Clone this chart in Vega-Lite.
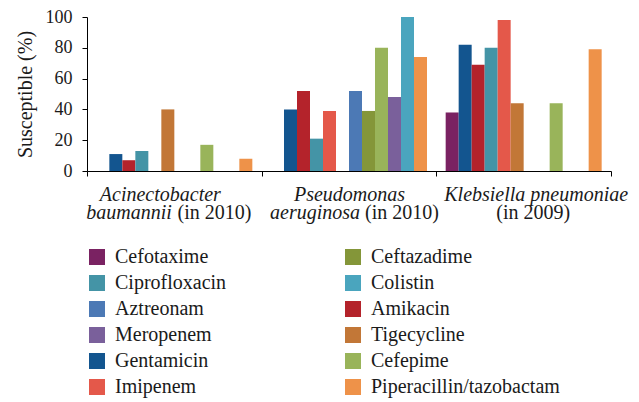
{
  "$schema": "https://vega.github.io/schema/vega-lite/v6.json",
  "width": 524,
  "height": 154,
  "autosize": {"type": "none"},
  "padding": {"left": 87, "top": 17, "right": 28, "bottom": 231},
  "background": "white",
  "config": {
    "font": "Liberation Serif",
    "view": {"stroke": null},
    "axis": {"grid": false, "domainColor": "#000", "tickColor": "#000", "labelColor": "#1a1a1a", "titleColor": "#1a1a1a", "domainWidth": 1, "tickWidth": 1}
  },
  "data": {
    "values": [
      {"organism": "Acinectobacter baumannii (in 2010)", "antibiotic": "Gentamicin", "susceptible": 11},
      {"organism": "Acinectobacter baumannii (in 2010)", "antibiotic": "Amikacin", "susceptible": 7},
      {"organism": "Acinectobacter baumannii (in 2010)", "antibiotic": "Ciprofloxacin", "susceptible": 13},
      {"organism": "Acinectobacter baumannii (in 2010)", "antibiotic": "Tigecycline", "susceptible": 40},
      {"organism": "Acinectobacter baumannii (in 2010)", "antibiotic": "Cefepime", "susceptible": 17},
      {"organism": "Acinectobacter baumannii (in 2010)", "antibiotic": "Piperacillin/tazobactam", "susceptible": 8},
      {"organism": "Pseudomonas aeruginosa (in 2010)", "antibiotic": "Gentamicin", "susceptible": 40},
      {"organism": "Pseudomonas aeruginosa (in 2010)", "antibiotic": "Amikacin", "susceptible": 52},
      {"organism": "Pseudomonas aeruginosa (in 2010)", "antibiotic": "Ciprofloxacin", "susceptible": 21},
      {"organism": "Pseudomonas aeruginosa (in 2010)", "antibiotic": "Imipenem", "susceptible": 39},
      {"organism": "Pseudomonas aeruginosa (in 2010)", "antibiotic": "Aztreonam", "susceptible": 52},
      {"organism": "Pseudomonas aeruginosa (in 2010)", "antibiotic": "Ceftazadime", "susceptible": 39},
      {"organism": "Pseudomonas aeruginosa (in 2010)", "antibiotic": "Cefepime", "susceptible": 80},
      {"organism": "Pseudomonas aeruginosa (in 2010)", "antibiotic": "Meropenem", "susceptible": 48},
      {"organism": "Pseudomonas aeruginosa (in 2010)", "antibiotic": "Colistin", "susceptible": 100},
      {"organism": "Pseudomonas aeruginosa (in 2010)", "antibiotic": "Piperacillin/tazobactam", "susceptible": 74},
      {"organism": "Klebsiella pneumoniae (in 2009)", "antibiotic": "Cefotaxime", "susceptible": 38},
      {"organism": "Klebsiella pneumoniae (in 2009)", "antibiotic": "Gentamicin", "susceptible": 82},
      {"organism": "Klebsiella pneumoniae (in 2009)", "antibiotic": "Amikacin", "susceptible": 69},
      {"organism": "Klebsiella pneumoniae (in 2009)", "antibiotic": "Ciprofloxacin", "susceptible": 80},
      {"organism": "Klebsiella pneumoniae (in 2009)", "antibiotic": "Imipenem", "susceptible": 98},
      {"organism": "Klebsiella pneumoniae (in 2009)", "antibiotic": "Tigecycline", "susceptible": 44},
      {"organism": "Klebsiella pneumoniae (in 2009)", "antibiotic": "Cefepime", "susceptible": 44},
      {"organism": "Klebsiella pneumoniae (in 2009)", "antibiotic": "Piperacillin/tazobactam", "susceptible": 79}
    ]
  },
  "layer": [
    {
      "mark": {"type": "bar"},
      "encoding": {
        "x": {
          "field": "organism", "type": "nominal",
          "scale": {"domain": ["Acinectobacter baumannii (in 2010)", "Pseudomonas aeruginosa (in 2010)", "Klebsiella pneumoniae (in 2009)"], "paddingInner": 0, "paddingOuter": 0},
          "axis": {
            "orient": "bottom",
            "title": null,
            "labelExpr": "datum.value == 'Acinectobacter baumannii (in 2010)' ? 'Acinectobacter' : datum.value == 'Pseudomonas aeruginosa (in 2010)' ? 'Pseudomonas' : datum.value == 'Klebsiella pneumoniae (in 2009)' ? 'Klebsiella pneumoniae' : ''",
            "labelFontStyle": "italic", "labelFontSize": 20, "labelAngle": 0,
            "labelBaseline": "alphabetic", "labelPadding": 24, "tickSize": 5,
            "tickBand": "extent", "labelLimit": 400, "labelOverlap": false,
            "labelOffset": {"condition": [{"test": "datum.value == 'Acinectobacter baumannii (in 2010)'", "value": -14.5}, {"test": "datum.value == 'Klebsiella pneumoniae (in 2009)'", "value": 12}], "value": 0}
          }
        },
        "xOffset": {
          "field": "antibiotic", "type": "nominal",
          "scale": {"domain": ["Cefotaxime", "Gentamicin", "Amikacin", "Ciprofloxacin", "Imipenem", "Tigecycline", "Aztreonam", "Ceftazadime", "Cefepime", "Meropenem", "Colistin", "Piperacillin/tazobactam"], "paddingInner": 0, "paddingOuter": 0.718}
        },
        "y": {
          "field": "susceptible", "type": "quantitative",
          "scale": {"domain": [0, 100]},
          "axis": {"title": "Susceptible (%)", "titleFontSize": 20, "titleFontWeight": "normal", "titlePadding": 10, "labelFontSize": 18, "values": [0, 20, 40, 60, 80, 100], "tickSize": 5, "labelPadding": 10}
        },
        "color": {
          "field": "antibiotic", "type": "nominal",
          "scale": {
            "domain": ["Cefotaxime", "Ciprofloxacin", "Aztreonam", "Meropenem", "Gentamicin", "Imipenem", "Ceftazadime", "Colistin", "Amikacin", "Tigecycline", "Cefepime", "Piperacillin/tazobactam"],
            "range": ["#7a2262", "#4494a6", "#4c79b5", "#7a609b", "#13558f", "#e4584a", "#849639", "#4aa5be", "#b4232b", "#c27737", "#99b45a", "#ee9249"]
          },
          "legend": {"title": null, "orient": "none", "legendX": 0, "legendY": 230, "columns": 2, "columnPadding": 116, "rowPadding": 6, "symbolType": "square", "symbolSize": 256, "symbolStrokeWidth": 0, "symbolOpacity": 1, "labelFontSize": 20, "labelOffset": 8, "labelLimit": 400, "labelColor": "#1a1a1a"}
        }
      }
    },
    {
      "mark": {"type": "bar", "opacity": 0},
      "encoding": {
        "x": {
          "field": "organism", "type": "nominal",
          "axis": {
            "orient": "bottom",
            "title": null, "domain": false, "ticks": false, "tickSize": 0,
            "labelExpr": "datum.value == 'Acinectobacter baumannii (in 2010)' ? 'baumannii' : datum.value == 'Pseudomonas aeruginosa (in 2010)' ? 'aeruginosa' : ''",
            "labelFontStyle": "italic", "labelFontSize": 20, "labelAngle": 0,
            "labelAlign": "right", "labelBaseline": "alphabetic", "labelPadding": 47, "labelLimit": 400, "labelOverlap": false,
            "labelOffset": {"condition": [{"test": "datum.value == 'Acinectobacter baumannii (in 2010)'", "value": -2.5}], "value": 11}
          }
        }
      }
    },
    {
      "mark": {"type": "bar", "opacity": 0},
      "encoding": {
        "x": {
          "field": "organism", "type": "nominal",
          "axis": {
            "orient": "bottom",
            "title": null, "domain": false, "ticks": false, "tickSize": 0,
            "labelExpr": "datum.value == 'Klebsiella pneumoniae (in 2009)' ? '(in 2009)' : datum.value == 'Acinectobacter baumannii (in 2010)' || datum.value == 'Pseudomonas aeruginosa (in 2010)' ? '(in 2010)' : ''",
            "labelFontSize": 20, "labelAngle": 0,
            "labelAlign": {"condition": [{"test": "datum.value == 'Klebsiella pneumoniae (in 2009)'", "value": "center"}], "value": "left"},
            "labelBaseline": "alphabetic", "labelPadding": 47, "labelLimit": 400, "labelOverlap": false,
            "labelOffset": {"condition": [{"test": "datum.value == 'Acinectobacter baumannii (in 2010)'", "value": 3.2}, {"test": "datum.value == 'Klebsiella pneumoniae (in 2009)'", "value": 9.5}], "value": 16}
          }
        }
      }
    }
  ],
  "resolve": {"axis": {"x": "independent"}}
}
